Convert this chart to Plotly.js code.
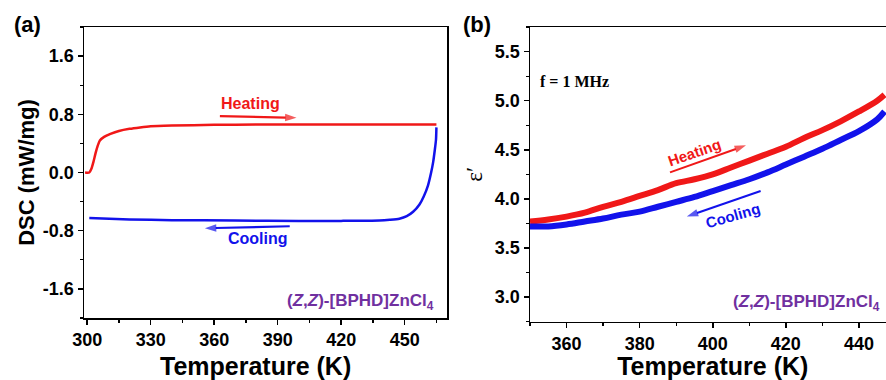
<!DOCTYPE html>
<html><head><meta charset="utf-8">
<script src="https://cdn.plot.ly/plotly-3.0.1.min.js"></script>
<style>html,body{margin:0;padding:0;overflow:hidden;background:#fff}</style>
</head><body><div id="chart" style="width:900px;height:380px"></div>
<script>
// Panel (a) DSC
const heatT = [299, 301, 302, 303, 304, 305, 306, 308, 311, 315, 320, 325, 330, 340, 360, 380, 400, 430, 465];
const heatDSC = [0.0, 0.0, 0.05, 0.15, 0.27, 0.37, 0.44, 0.49, 0.53, 0.57, 0.60, 0.62, 0.635, 0.645, 0.655, 0.66, 0.66, 0.66, 0.66];
const coolT = [465, 464.8, 464.2, 463.5, 462.5, 461, 459, 457, 454, 451, 447.5, 443, 438, 420, 400, 370, 340, 320, 301];
const coolDSC = [0.62, 0.45, 0.30, 0.15, 0.0, -0.18, -0.33, -0.44, -0.54, -0.60, -0.635, -0.65, -0.66, -0.665, -0.665, -0.66, -0.655, -0.645, -0.625];
// Panel (b) dielectric
const epsT = [350, 355, 360, 365, 370, 375, 380, 385, 390, 395, 400, 405, 410, 415, 420, 425, 430, 435, 440, 445, 447];
const epsHeat = [3.77, 3.79, 3.82, 3.86, 3.92, 3.97, 4.03, 4.09, 4.16, 4.20, 4.25, 4.32, 4.39, 4.46, 4.53, 4.62, 4.70, 4.79, 4.89, 5.00, 5.06];
const epsCool = [3.72, 3.72, 3.74, 3.77, 3.80, 3.84, 3.87, 3.92, 3.97, 4.02, 4.08, 4.14, 4.20, 4.27, 4.35, 4.43, 4.51, 4.60, 4.69, 4.81, 4.89];
const xTicksA = [300, 330, 360, 390, 420, 450];
const yTicksA = [-1.6, -0.8, 0.0, 0.8, 1.6];
const yTickTextA = ['-1.6', '-0.8', '0.0', '0.8', '1.6'];
const xTicksB = [360, 380, 400, 420, 440];
const yTicksB = [3.0, 3.5, 4.0, 4.5, 5.0, 5.5];
const yTickTextB = ['3.0', '3.5', '4.0', '4.5', '5.0', '5.5'];
// direction arrows (start, end) for the Heating / Cooling labels
const arrowHeatA = {x: [362.7, 398.9], y: [0.774, 0.752]};
const arrowCoolA = {x: [395.7, 355.6], y: [-0.739, -0.766]};
const arrowHeatB = {x: [388.3, 409.1], y: [4.27, 4.545]};
const arrowCoolB = {x: [413.1, 392.9], y: [4.08, 3.82]};

const RED = 'rgb(240,24,24)', BLUE = 'rgb(18,18,235)', PURPLE = 'rgb(112,48,160)';
const W = 900, H = 380;
const FONT = 'Liberation Sans, Arial, sans-serif';
const tickfont = {family: FONT, size: 18, color: '#000', weight: 'bold'};
const titlefont = {family: FONT, size: 25, color: '#000', weight: 'bold'};

function axBase() {
  return {showgrid: false, zeroline: false, showline: true, mirror: true, linecolor: '#000', linewidth: 1.5,
    ticks: 'outside', ticklen: 5, tickwidth: 1.5, tickcolor: '#000', tickfont: tickfont, automargin: false};
}
function arrowTrace(a, color, xa, ya, w) {
  return {x: a.x, y: a.y, xaxis: xa, yaxis: ya, mode: 'lines+markers', showlegend: false, hoverinfo: 'skip',
    line: {color: color, width: w},
    marker: {symbol: 'arrow', angleref: 'previous', size: [0, 12], color: color, line: {width: 0}}};
}

const traces = [
  {x: heatT, y: heatDSC, xaxis: 'x', yaxis: 'y', mode: 'lines', line: {color: RED, width: 2.5, shape: 'spline', smoothing: 0.6}, showlegend: false},
  {x: coolT, y: coolDSC, xaxis: 'x', yaxis: 'y', mode: 'lines', line: {color: BLUE, width: 2.5, shape: 'spline', smoothing: 0.6}, showlegend: false},
  {x: epsT, y: epsHeat, xaxis: 'x2', yaxis: 'y2', mode: 'lines', line: {color: RED, width: 6, shape: 'spline'}, showlegend: false},
  {x: epsT, y: epsCool, xaxis: 'x2', yaxis: 'y2', mode: 'lines', line: {color: BLUE, width: 6, shape: 'spline'}, showlegend: false},
  arrowTrace(arrowHeatA, RED, 'x', 'y', 2.2),
  arrowTrace(arrowCoolA, BLUE, 'x', 'y', 2.2),
  arrowTrace(arrowHeatB, RED, 'x2', 'y2', 2),
  arrowTrace(arrowCoolB, BLUE, 'x2', 'y2', 2)
];

const xa = Object.assign(axBase(), {domain: [84/W, 447/W], range: [298.5, 470], tickvals: xTicksA, anchor: 'y',
  minor: {dtick: 15, tick0: 300, ticks: 'outside', ticklen: 3, tickwidth: 1.2, tickcolor: '#000'}});
const ya = Object.assign(axBase(), {domain: [1-318/H, 1-27/H], range: [-2, 2], tickvals: yTicksA, ticktext: yTickTextA, anchor: 'x',
  minor: {dtick: 0.4, tick0: 0, ticks: 'outside', ticklen: 3, tickwidth: 1.2, tickcolor: '#000'},
  title: {text: 'DSC (mW/mg)', font: {family: FONT, size: 22, color: '#000', weight: 'bold'}, standoff: 2}});
const xb = Object.assign(axBase(), {domain: [530/W, 895.5/W], range: [350, 450], tickvals: xTicksB, anchor: 'y2',
  minor: {dtick: 10, tick0: 350, ticks: 'outside', ticklen: 3, tickwidth: 1.2, tickcolor: '#000'},
  title: {text: 'Temperature (K)', font: titlefont, standoff: 4}});
const yb = Object.assign(axBase(), {domain: [1-321.7/H, 1-27/H], range: [2.75, 5.75], tickvals: yTicksB, ticktext: yTickTextB, anchor: 'x2',
  minor: {dtick: 0.25, tick0: 3, ticks: 'outside', ticklen: 3, tickwidth: 1.2, tickcolor: '#000'},
  title: {text: 'ε′', font: {family: 'Liberation Serif, serif', size: 23, color: '#000'}, standoff: 6}});

function pAnn(x, y, text, font, xanchor) {
  return {xref: 'paper', yref: 'paper', x: x/W, y: 1-y/H, xanchor: xanchor || 'center', yanchor: 'middle', text: text, showarrow: false, font: font};
}
const ann = [
  pAnn(27, 25, '(a)', {family: FONT, size: 22, color: '#000', weight: 'bold'}),
  pAnn(477, 25, '(b)', {family: FONT, size: 22, color: '#000', weight: 'bold'}),
  pAnn(255, 366, 'Temperature (K)', titlefont),
  // panel a
  {xref: 'x', yref: 'y', x: 377.3, y: 0.944, text: 'Heating', showarrow: false, font: {family: FONT, size: 16, color: RED, weight: 'bold'}},
  {xref: 'x', yref: 'y', x: 380.7, y: -0.912, text: 'Cooling', showarrow: false, font: {family: FONT, size: 16, color: BLUE, weight: 'bold'}},
  pAnn(436, 301.7, '(<i>Z</i>,<i>Z</i>)-[BPHD]ZnCl<sub>4</sub>', {family: FONT, size: 17, color: PURPLE, weight: 'bold'}, 'right'),
  // panel b
  pAnn(538, 81.7, 'f = 1 MHz', {family: 'Liberation Serif, serif', size: 16, color: '#000', weight: 'bold'}, 'left'),
  {xref: 'x2', yref: 'y2', x: 394.9, y: 4.47, text: 'Heating', textangle: -19, showarrow: false, font: {family: FONT, size: 15, color: RED, weight: 'bold'}},
  {xref: 'x2', yref: 'y2', x: 405.5, y: 3.83, text: 'Cooling', textangle: -16, showarrow: false, font: {family: FONT, size: 15, color: BLUE, weight: 'bold'}},
  pAnn(882, 303.3, '(<i>Z</i>,<i>Z</i>)-[BPHD]ZnCl<sub>4</sub>', {family: FONT, size: 17, color: PURPLE, weight: 'bold'}, 'right')
];

const layout = {width: W, height: H, margin: {l: 0, r: 0, t: 0, b: 0}, paper_bgcolor: '#fff', plot_bgcolor: '#fff',
  xaxis: xa, yaxis: ya, xaxis2: xb, yaxis2: yb, annotations: ann, showlegend: false};
Plotly.newPlot('chart', traces, layout, {displayModeBar: false, staticPlot: true});
</script></body></html>
